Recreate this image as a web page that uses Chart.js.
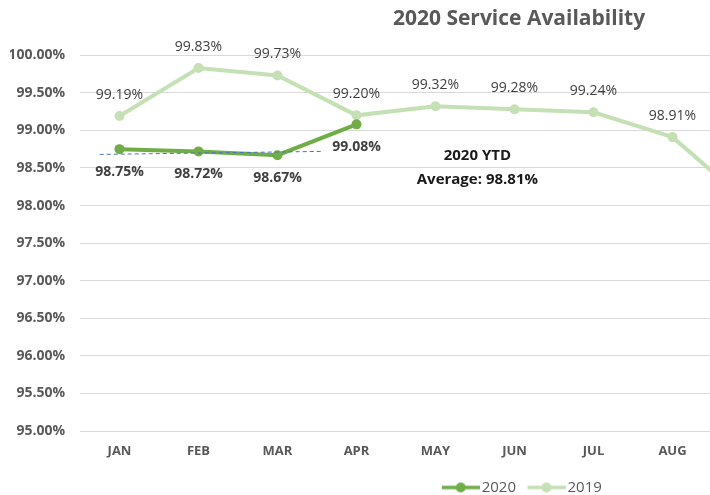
<!DOCTYPE html>
<html>
<head>
<meta charset="utf-8">
<title>2020 Service Availability</title>
<script src="https://cdn.jsdelivr.net/npm/chart.js@4.4.1/dist/chart.umd.min.js"></script>
<style>
  html, body { margin: 0; padding: 0; background: #fff; overflow: hidden; }
  #marco { width: 710px; height: 495px; overflow: hidden; }
</style>
</head>
<body>
<div id="marco"><canvas id="graficoDisponibilidad" width="1038" height="495"></canvas></div>
<script>
// --- Datos ---
const meses = ['JAN','FEB','MAR','APR','MAY','JUN','JUL','AUG','SEP','OCT','NOV','DEC'];
const valores2020 = [98.75, 98.72, 98.67, 99.08, null, null, null, null, null, null, null, null];
const valores2019 = [99.19, 99.83, 99.73, 99.20, 99.32, 99.28, 99.24, 98.91, 98.00, null, null, null];
// línea de tendencia punteada (posición en índice de mes, valor)
const tendenciaX = [-0.25, 2.55];
const tendenciaY = [98.68, 98.72];
const ejeYMin = 95, ejeYMax = 100, ejeYPaso = 0.5;
const notaTexto = ['2020 YTD', 'Average: 98.81%'];
const notaX = 4.53;
const notaY = [98.66, 98.34];

const verde2020 = '#70ad47';
const verde2019 = '#c5e0b4';
const gris = '#595959';
const FUENTE = "'Open Sans', 'Liberation Sans', sans-serif";

// marcador de leyenda: línea + círculo, como en Excel (parte izquierda transparente = separación)
function marcadorLeyenda(color) {
  const c = document.createElement('canvas');
  c.width = 49; c.height = 12;
  const g = c.getContext('2d');
  g.strokeStyle = color; g.lineWidth = 3.5;
  g.beginPath(); g.moveTo(11, 6); g.lineTo(49, 6); g.stroke();
  g.fillStyle = color;
  g.beginPath(); g.arc(30, 6, 5, 0, Math.PI * 2); g.fill();
  return c;
}

// etiquetas de datos + nota del promedio
const etiquetasPlugin = {
  id: 'etiquetas',
  afterDatasetsDraw(chart) {
    const ctx = chart.ctx;
    chart.data.datasets.forEach((ds, i) => {
      if (!ds.etiqueta) return;
      const meta = chart.getDatasetMeta(i);
      meta.data.forEach((pt, j) => {
        const v = ds.data[j];
        if (v == null) return;
        ctx.save();
        ctx.font = ds.etiqueta.font;
        ctx.fillStyle = ds.etiqueta.color;
        ctx.textAlign = 'center';
        ctx.textBaseline = 'middle';
        ctx.fillText(v.toFixed(2) + '%', pt.x, pt.y + ds.etiqueta.dy);
        ctx.restore();
      });
    });

    const xl = chart.scales.xl, y = chart.scales.y;
    ctx.save();
    ctx.font = 'bold 15px ' + FUENTE;
    ctx.fillStyle = '#1a1a1a';
    ctx.textAlign = 'center';
    ctx.textBaseline = 'middle';
    notaTexto.forEach((t, k) => ctx.fillText(t, xl.getPixelForValue(notaX), y.getPixelForValue(notaY[k])));
    ctx.restore();
  }
};

const ctx = document.getElementById('graficoDisponibilidad').getContext('2d');
new Chart(ctx, {
  type: 'line',
  data: {
    labels: meses,
    datasets: [
      {
        label: '2020', data: valores2020,
        borderColor: verde2020, backgroundColor: verde2020,
        borderWidth: 4, pointRadius: 5, pointBorderWidth: 0, pointBackgroundColor: verde2020,
        etiqueta: { font: 'bold 14px ' + FUENTE, color: '#404040', dy: 23 }
      },
      {
        label: '2019', data: valores2019,
        borderColor: verde2019, backgroundColor: verde2019,
        borderWidth: 4, pointRadius: 5, pointBorderWidth: 0, pointBackgroundColor: verde2019,
        etiqueta: { font: '14px ' + FUENTE, color: '#404040', dy: -21 }
      },
      {
        label: 'tendencia', xAxisID: 'xl', order: -1,
        data: tendenciaX.map((x, k) => ({ x: x, y: tendenciaY[k] })),
        borderColor: '#4472c4', borderWidth: 1, borderDash: [4, 3], pointRadius: 0
      }
    ]
  },
  options: {
    responsive: false, animation: false,
    layout: { padding: { left: 10, right: 10, top: 0, bottom: -10 } },
    plugins: {
      tooltip: { enabled: false },
      title: {
        display: true, text: '2020 Service Availability', color: gris,
        font: { family: FUENTE, size: 21, weight: 'bold' },
        padding: { top: 6, bottom: 24 }
      },
      legend: {
        position: 'bottom',
        labels: {
          color: gris, font: { family: FUENTE, size: 15 },
          usePointStyle: true, pointStyleWidth: 38, padding: 6,
          filter: item => item.text !== 'tendencia',
          generateLabels: chart => Chart.defaults.plugins.legend.labels.generateLabels(chart).map(it => {
            it.pointStyle = marcadorLeyenda(it.datasetIndex === 0 ? verde2020 : verde2019);
            return it;
          })
        }
      }
    },
    scales: {
      x: {
        offset: true,
        grid: { display: false, drawTicks: false }, border: { display: false },
        ticks: { color: gris, font: { family: FUENTE, size: 13, weight: 'bold' }, padding: 12 },
        afterFit(s) { s.height = 43; }
      },
      xl: { type: 'linear', display: false, min: -0.5, max: meses.length - 0.5 },
      y: {
        min: ejeYMin, max: ejeYMax,
        grid: { color: '#d9d9d9', drawTicks: false }, border: { display: false },
        ticks: {
          stepSize: ejeYPaso, padding: 15, color: gris,
          font: { family: FUENTE, size: 14, weight: 'bold' },
          callback: v => v.toFixed(2) + '%'
        },
        afterFit(s) { s.width = 70; }
      }
    }
  },
  plugins: [etiquetasPlugin]
});
</script>
</body>
</html>
